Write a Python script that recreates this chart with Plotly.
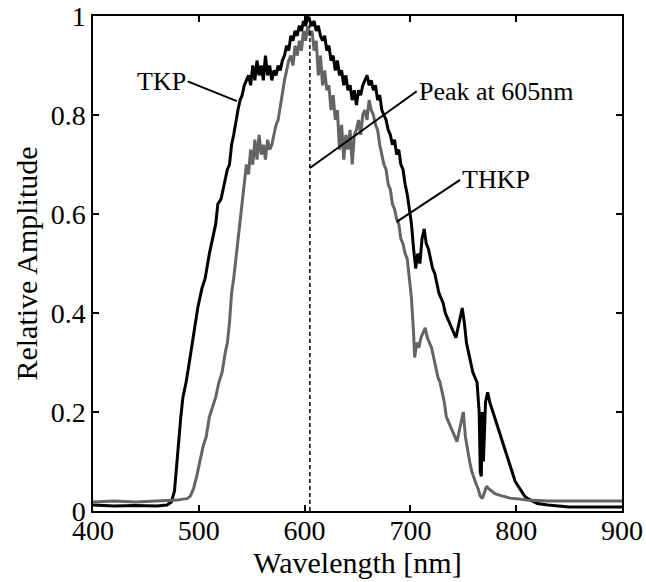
import plotly.graph_objects as go

# ---- data ----
wl_tkp = [400, 420, 440, 460, 470, 474, 477, 480, 483, 485, 488, 491, 494, 496, 499,
          503, 506, 510, 513, 516, 518, 521, 524, 527, 529, 531, 533, 535, 537, 539,
          541, 543, 545, 547, 549, 551, 553, 555, 557, 559, 561, 563, 565, 567, 569,
          571, 573, 575, 577, 579, 581, 583, 585, 587, 589, 591, 593, 595, 597, 599,
          601, 603, 605, 607, 609, 611, 613, 615, 617, 619, 621, 623, 625, 627, 629,
          631, 633, 635, 637, 639, 641, 643, 645, 647, 649, 651, 653, 655, 657, 659,
          661, 663, 665, 667, 669, 671, 673, 675, 677, 679, 681, 683, 685, 687, 689,
          691, 693, 695, 697, 699, 701, 703, 705, 707, 709, 711, 713, 715, 717, 719,
          721, 723, 725, 727, 729, 731, 733, 735, 737, 739, 741, 743, 745, 747, 749,
          751, 753, 755, 757, 759, 761, 763, 765, 766, 767, 768, 769, 771, 773, 775,
          778, 781, 784, 787, 790, 793, 796, 799, 802, 805, 808, 811, 815, 820, 830,
          850, 870, 900]
amp_tkp = [0.012, 0.010, 0.011, 0.010, 0.012, 0.018, 0.04, 0.12, 0.19, 0.23, 0.26, 0.30, 0.34, 0.37, 0.41,
           0.45, 0.47, 0.52, 0.55, 0.58, 0.62, 0.63, 0.66, 0.69, 0.70, 0.74, 0.76, 0.79, 0.81, 0.83,
           0.84, 0.86, 0.87, 0.88, 0.86, 0.90, 0.87, 0.91, 0.88, 0.90, 0.87, 0.92, 0.88, 0.90, 0.87,
           0.89, 0.88, 0.90, 0.89, 0.91, 0.92, 0.94, 0.93, 0.96, 0.95, 0.97, 0.96, 0.98, 0.97, 0.99,
           0.98, 1.00, 0.99, 0.98, 0.99, 0.97, 0.98, 0.96, 0.95, 0.96, 0.93, 0.94, 0.91, 0.92, 0.89,
           0.91, 0.88, 0.89, 0.86, 0.88, 0.85, 0.86, 0.83, 0.85, 0.82, 0.85, 0.84, 0.86, 0.87, 0.88,
           0.86, 0.87, 0.85, 0.86, 0.83, 0.84, 0.81, 0.80, 0.79, 0.77, 0.76, 0.74, 0.75, 0.72, 0.73,
           0.70, 0.69, 0.66, 0.64, 0.61, 0.58, 0.53, 0.49, 0.52, 0.50, 0.55, 0.57, 0.54, 0.53, 0.51,
           0.49, 0.48, 0.46, 0.44, 0.43, 0.42, 0.40, 0.39, 0.38, 0.37, 0.36, 0.35, 0.37, 0.39, 0.41,
           0.38, 0.34, 0.32, 0.30, 0.28, 0.27, 0.26, 0.20, 0.08, 0.07, 0.20, 0.10, 0.22, 0.24, 0.22,
           0.20, 0.18, 0.16, 0.14, 0.12, 0.10, 0.08, 0.06, 0.05, 0.04, 0.03, 0.025, 0.02, 0.015, 0.012,
           0.008, 0.008, 0.008]

wl_thkp = [400, 420, 440, 460, 475, 480, 485, 489, 492, 495, 498, 501, 504, 507, 510,
           513, 516, 519, 522, 525, 527, 529, 531, 533, 535, 537, 539, 541, 543, 545,
           547, 549, 551, 553, 555, 557, 559, 561, 563, 565, 567, 569, 571, 573, 575,
           577, 579, 581, 583, 585, 587, 589, 591, 593, 595, 597, 599, 601, 603, 605,
           607, 609, 611, 613, 615, 617, 619, 621, 623, 625, 627, 629, 631, 633, 635,
           637, 639, 641, 643, 645, 647, 649, 651, 653, 655, 657, 659, 661, 663, 665,
           667, 669, 671, 673, 675, 677, 679, 681, 683, 685, 687, 689, 691, 693, 695,
           697, 699, 701, 703, 704, 706, 708, 710, 712, 714, 716, 718, 720, 722, 724,
           726, 728, 730, 732, 734, 736, 738, 740, 742, 744, 746, 748, 750, 752, 754,
           756, 758, 760, 762, 764, 766, 768, 770, 772, 774, 777, 780, 784, 788, 794,
           800, 810, 830, 860, 900]
amp_thkp = [0.018, 0.020, 0.018, 0.020, 0.020, 0.022, 0.024, 0.025, 0.03, 0.045, 0.07, 0.10, 0.13, 0.15, 0.19,
            0.21, 0.23, 0.26, 0.28, 0.32, 0.34, 0.38, 0.44, 0.47, 0.51, 0.54, 0.59, 0.62, 0.66, 0.70,
            0.68, 0.73, 0.70, 0.75, 0.71, 0.76, 0.72, 0.74, 0.71, 0.75, 0.73, 0.74, 0.76, 0.78, 0.79,
            0.82, 0.84, 0.87, 0.89, 0.91, 0.92, 0.90, 0.94, 0.92, 0.95, 0.93, 0.97, 0.95, 0.98, 0.96,
            0.97, 0.93, 0.95, 0.88, 0.92, 0.86, 0.89, 0.85, 0.86, 0.81, 0.84, 0.79, 0.81, 0.73, 0.78,
            0.71, 0.76, 0.73, 0.77, 0.70, 0.76, 0.77, 0.79, 0.76, 0.80, 0.81, 0.79, 0.83, 0.81, 0.80,
            0.78, 0.77, 0.74, 0.72, 0.70, 0.69, 0.66, 0.65, 0.62, 0.61, 0.59, 0.58, 0.55, 0.54, 0.52,
            0.51, 0.47, 0.43, 0.36, 0.31, 0.34, 0.33, 0.35, 0.36, 0.37, 0.35, 0.34, 0.33, 0.31, 0.29,
            0.27, 0.26, 0.24, 0.22, 0.19, 0.18, 0.17, 0.16, 0.15, 0.14, 0.16, 0.18, 0.20, 0.15, 0.12,
            0.10, 0.08, 0.065, 0.055, 0.045, 0.03, 0.025, 0.04, 0.05, 0.045, 0.04, 0.035, 0.032, 0.03, 0.026,
            0.025, 0.022, 0.020, 0.020, 0.020]

peak_wl = 605
peak_span = [0, 1]

x_ticks = [400, 500, 600, 700, 800, 900]
y_ticks = [0, 0.2, 0.4, 0.6, 0.8, 1]
y_tick_text = ["0", "0.2", "0.4", "0.6", "0.8", "1"]

FONT = "Liberation Serif, Times New Roman, serif"

fig = go.Figure()
fig.add_trace(go.Scatter(x=wl_tkp, y=amp_tkp, mode="lines", name="TKP",
                         line=dict(color="black", width=3)))
fig.add_trace(go.Scatter(x=wl_thkp, y=amp_thkp, mode="lines", name="THKP",
                         line=dict(color="rgb(100,100,100)", width=3)))
fig.add_trace(go.Scatter(x=[peak_wl, peak_wl], y=peak_span, mode="lines",
                         line=dict(color="black", width=1.5, dash="4px,3px")))

ann_font = dict(family=FONT, size=26, color="black")
fig.add_annotation(x=536, y=0.828, ax=489.5, ay=0.868, axref="x", ayref="y",
                   text="TKP", xanchor="right", yanchor="middle", showarrow=True,
                   arrowhead=0, arrowwidth=2, arrowcolor="black", font=ann_font)
fig.add_annotation(x=peak_wl, y=0.693, ax=706, ay=0.848, axref="x", ayref="y",
                   text="Peak at 605nm", xanchor="left", yanchor="middle", showarrow=True,
                   arrowhead=0, arrowwidth=2, arrowcolor="black", font=ann_font)
fig.add_annotation(x=687, y=0.584, ax=747, ay=0.669, axref="x", ayref="y",
                   text="THKP", xanchor="left", yanchor="middle", showarrow=True,
                   arrowhead=0, arrowwidth=2, arrowcolor="black", font=ann_font)

axis_common = dict(showgrid=False, zeroline=False, showline=True, linecolor="black",
                   linewidth=1.5, mirror="ticks", ticks="inside", ticklen=6,
                   tickwidth=1.5, tickcolor="black",
                   tickfont=dict(family=FONT, size=28, color="black"))
fig.update_xaxes(range=[400, 900], tickvals=x_ticks, ticktext=[str(v) for v in x_ticks],
                 ticklabelstandoff=-6,
                 title=dict(text="Wavelength [nm]", font=dict(family=FONT, size=30, color="black"),
                            standoff=0),
                 **axis_common)
fig.update_yaxes(range=[0, 1], tickvals=y_ticks, ticktext=y_tick_text,
                 title=dict(text="Relative Amplitude", font=dict(family=FONT, size=30, color="black"),
                            standoff=4),
                 **axis_common)
fig.update_layout(width=646, height=582, showlegend=False,
                  margin=dict(l=93, r=24, t=16, b=71, autoexpand=False),
                  plot_bgcolor="white", paper_bgcolor="white")
fig.write_html("out.html")
